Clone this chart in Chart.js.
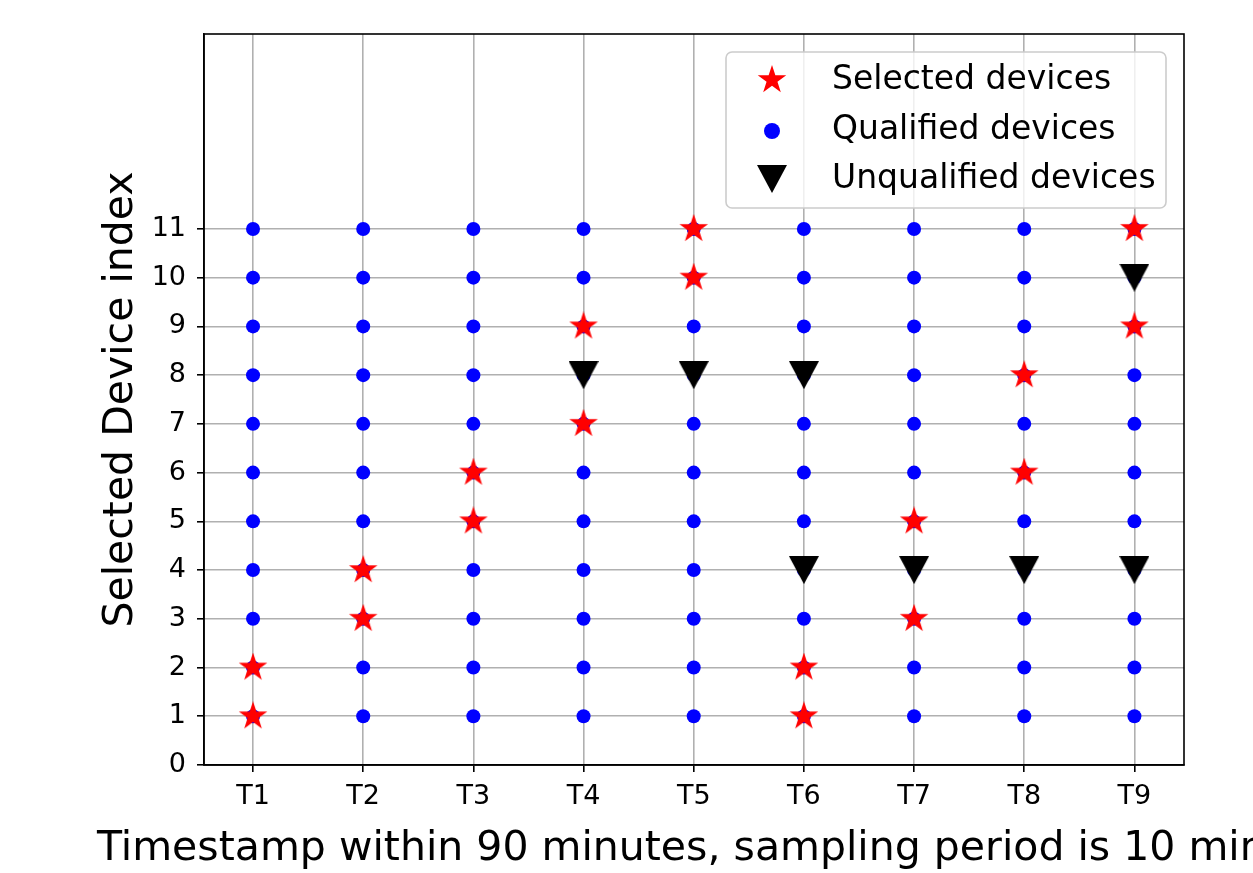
<!DOCTYPE html>
<html>
<head>
<meta charset="utf-8">
<script src="https://cdn.jsdelivr.net/npm/chart.js@4.4.1/dist/chart.umd.min.js"></script>
<style>
  body { margin: 0; background: #fff; }
  #wrap { width: 1253px; height: 873px; }
</style>
</head>
<body>
<div id="wrap"><canvas id="chart" width="1253" height="873"></canvas></div>
<script>
// timestamps (x positions 1..9) and their labels
var timestamps = [1, 2, 3, 4, 5, 6, 7, 8, 9];
var tickLabels = ["T1", "T2", "T3", "T4", "T5", "T6", "T7", "T8", "T9"];
var yTicks = [0, 1, 2, 3, 4, 5, 6, 7, 8, 9, 10, 11];

// device indices per timestamp
var qualifiedIdx = [1, 2, 3, 4, 5, 6, 7, 8, 9, 10, 11];
var selected = [[1, 2], [3, 4], [5, 6], [7, 9], [10, 11], [1, 2], [3, 5], [6, 8], [9, 11]];
var unqualified = [[], [], [], [8], [8], [4, 8], [4], [4], [4, 10]];

var xTitle = "Timestamp within 90 minutes, sampling period is 10 minutes";
var yTitle = "Selected Device index";
var FONT = "'DejaVu Sans', sans-serif";

function toPoints(lists) {
    var pts = [];
    timestamps.forEach(function(t, i) {
        lists[i].forEach(function(v) { pts.push({x: t, y: v}); });
    });
    return pts;
}
var qualifiedPts = [];
timestamps.forEach(function(t) {
    qualifiedIdx.forEach(function(v) { qualifiedPts.push({x: t, y: v}); });
});

// marker images
function makeStar(R, color) {
    var c = document.createElement('canvas');
    c.width = c.height = 2 * R;
    var g = c.getContext('2d');
    g.beginPath();
    for (var i = 0; i < 10; i++) {
        var r = i % 2 ? R * 0.382 : R;
        var a = -Math.PI / 2 + i * Math.PI / 5;
        var px = R + r * Math.cos(a), py = R + r * Math.sin(a);
        if (i == 0) g.moveTo(px, py); else g.lineTo(px, py);
    }
    g.closePath();
    g.fillStyle = color;
    g.fill();
    return c;
}
function makeTriDown(w, h, color) {
    var c = document.createElement('canvas');
    c.width = w; c.height = h;
    var g = c.getContext('2d');
    g.beginPath();
    g.moveTo(0, 0); g.lineTo(w, 0); g.lineTo(w / 2, h);
    g.closePath();
    g.fillStyle = color;
    g.fill();
    return c;
}
var starImg = makeStar(15, '#ff0000');
var triImg = makeTriDown(30, 28, '#000000');

// frame + x title + legend box
var decorPlugin = {
    id: 'decor',
    afterDraw: function(chart) {
        var ctx = chart.ctx, a = chart.chartArea;
        ctx.save();
        ctx.strokeStyle = '#000';
        ctx.lineWidth = 1.6;
        ctx.strokeRect(a.left, a.top, a.right - a.left, a.bottom - a.top);

        // x title (runs past canvas edge like the original)
        ctx.fillStyle = '#000';
        ctx.font = '41px ' + FONT;
        ctx.textAlign = 'left';
        ctx.textBaseline = 'middle';
        ctx.fillText(xTitle, 97, 849);

        // legend
        var bx = 726, by = 52, bw = 440, bh = 156, rr = 6;
        ctx.beginPath();
        ctx.moveTo(bx + rr, by);
        ctx.arcTo(bx + bw, by, bx + bw, by + bh, rr);
        ctx.arcTo(bx + bw, by + bh, bx, by + bh, rr);
        ctx.arcTo(bx, by + bh, bx, by, rr);
        ctx.arcTo(bx, by, bx + bw, by, rr);
        ctx.closePath();
        ctx.fillStyle = 'rgba(255,255,255,0.8)';
        ctx.fill();
        ctx.strokeStyle = '#cccccc';
        ctx.lineWidth = 1.6;
        ctx.stroke();

        var rows = [79, 130, 178];
        ctx.drawImage(starImg, 772 - 15, rows[0] - 14);
        ctx.beginPath();
        ctx.arc(772, rows[1] + 1, 8, 0, Math.PI * 2);
        ctx.fillStyle = '#0000ff';
        ctx.fill();
        ctx.drawImage(triImg, 772 - 15, rows[2] - 13);

        ctx.fillStyle = '#000';
        ctx.font = '33px ' + FONT;
        ctx.textAlign = 'left';
        var names = chart.data.datasets.map(function(d) { return d.label; });
        ctx.fillText(names[0], 832, rows[0] + 1);
        ctx.fillText(names[1], 832, rows[1]);
        ctx.fillText(names[2], 832, rows[2] + 1);
        ctx.restore();
    }
};

var ctx = document.getElementById('chart').getContext('2d');
new Chart(ctx, {
    type: 'scatter',
    data: {
        datasets: [
            {
                label: 'Selected devices',
                data: toPoints(selected),
                pointStyle: starImg,
                order: 1
            },
            {
                label: 'Qualified devices',
                data: qualifiedPts,
                pointStyle: 'circle',
                pointRadius: 7,
                backgroundColor: '#0000ff',
                borderWidth: 0,
                order: 3
            },
            {
                label: 'Unqualified devices',
                data: toPoints(unqualified),
                pointStyle: triImg,
                order: 2
            }
        ]
    },
    options: {
        responsive: false,
        animation: false,
        layout: { padding: { top: 34, right: 69, left: 0, bottom: 0 } },
        plugins: { legend: { display: false }, tooltip: { enabled: false } },
        scales: {
            x: {
                type: 'linear',
                min: 0.555,
                max: 9.45,
                afterBuildTicks: function(scale) {
                    scale.ticks = timestamps.map(function(v) { return {value: v}; });
                },
                afterFit: function(scale) { scale.height = 108; },
                ticks: {
                    color: '#000',
                    font: { family: FONT, size: 27 },
                    padding: 9,
                    maxRotation: 0,
                    callback: function(v) { return tickLabels[timestamps.indexOf(v)]; }
                },
                grid: { color: '#b0b0b0', lineWidth: 1.6, tickColor: '#000', tickLength: 7 },
                border: { color: '#000', width: 1.6 }
            },
            y: {
                type: 'linear',
                min: 0,
                max: 15,
                afterBuildTicks: function(scale) {
                    scale.ticks = yTicks.map(function(v) { return {value: v}; });
                },
                afterFit: function(scale) { scale.width = 204; },
                ticks: {
                    color: '#000',
                    font: { family: FONT, size: 27 },
                    padding: 11
                },
                grid: { color: '#b0b0b0', lineWidth: 1.6, tickColor: '#000', tickLength: 7 },
                border: { color: '#000', width: 1.6 },
                title: {
                    display: true,
                    text: yTitle,
                    color: '#000',
                    font: { family: FONT, size: 41 },
                    padding: { top: 97, bottom: 0 }
                }
            }
        }
    },
    plugins: [decorPlugin]
});
</script>
</body>
</html>
